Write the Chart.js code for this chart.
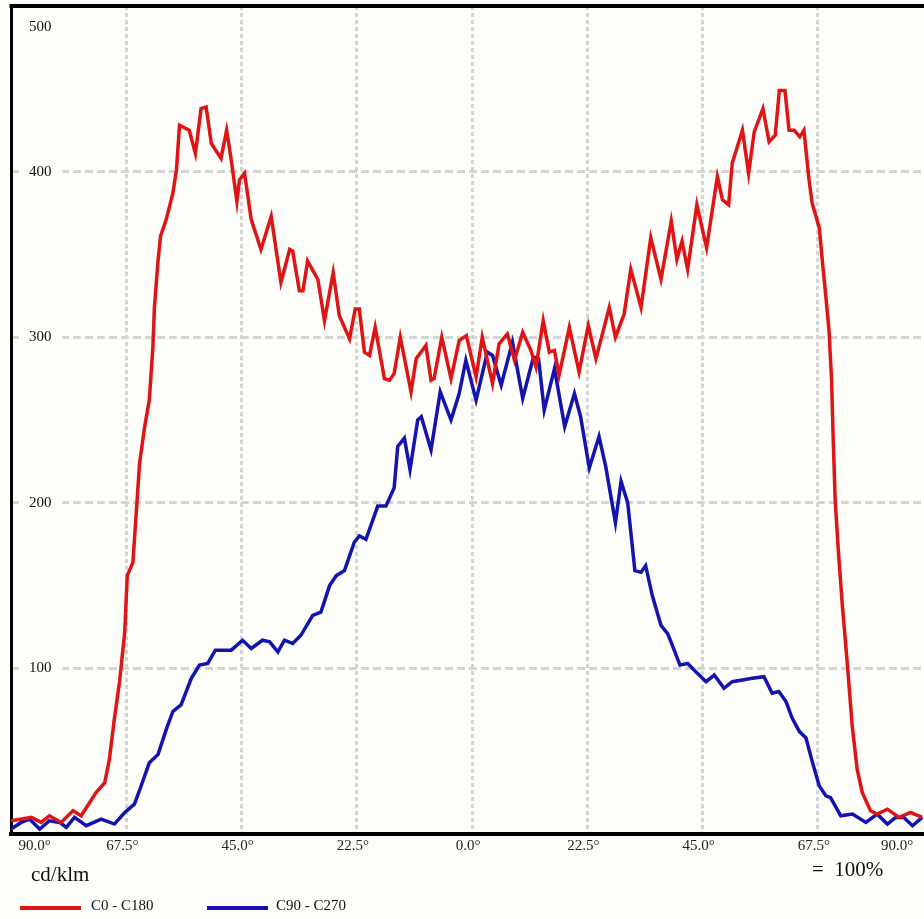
<!DOCTYPE html>
<html>
<head>
<meta charset="utf-8">
<script src="https://cdn.jsdelivr.net/npm/chart.js@4.4.1/dist/chart.umd.min.js"></script>
<style>
html,body{margin:0;padding:0;background:#fdfdf9;overflow:hidden;width:924px;height:919px;}
#wrap{position:relative;width:924px;height:919px;overflow:hidden;}
#c{position:absolute;left:0;top:0;}
.t{position:absolute;font-family:"Liberation Serif","Times New Roman",serif;color:#111;white-space:pre;line-height:1;}
.ln{position:absolute;height:4px;}
</style>
</head>
<body>
<div id="wrap">
<canvas id="c" width="944" height="919"></canvas>
<div id="unit" class="t" style="left:31px;top:864px;font-size:21px"></div>
<div id="note" class="t" style="left:812px;top:859px;font-size:21px"></div>
<div id="legend"></div>
</div>
<script>
// ---- data (angle in degrees, C0-C180 / C90-C270 half planes; left side negative) ----
const redAngles = [
  -90,-86,-84.1,-82.5,-80.2,-77.9,-76.3,-73.4,-71.7,-70.8,
  -69.8,-68.8,-67.8,-67.3,-66.2,-65.5,-64.9,-63.9,-63,-62.3,
  -62,-61.3,-60.8,-59.7,-58.4,-57.7,-57.1,-55.2,-54,-52.9,
  -51.9,-50.9,-49,-47.9,-47,-45.9,-45.4,-44.4,-43.1,-41.2,
  -39.2,-37.3,-35.6,-35,-33.7,-33,-32.1,-30.1,-28.8,-27.1,
  -25.9,-23.9,-22.8,-22,-21,-20,-18.9,-17.1,-16.1,-15.2,
  -14,-11.9,-10.9,-9,-8,-7.4,-5.9,-4.1,-2.5,-1.1,
  0.8,2,4,5.3,6.9,8.3,9.9,11.5,12.5,13.9,
  15.1,16.1,17,19,20.9,22.7,24.2,26.8,28,29.7,
  31,33,34.9,36.9,38.9,40,41,42.1,43.9,45.8,
  47.9,48.9,50.1,50.8,52.8,54,55.1,56.8,58,59.2,
  60,61.1,61.9,62.9,64,64.8,65.8,66.4,67.8,68.4,
  69.1,69.7,70.2,70.5,70.9,71.5,72.3,73.3,74.2,75.2,
  76.2,77.8,79.1,81.1,83.4,85.6,87.9
];
const redValues = [
  8,10,7,11,7,14,11,25,31,45,
  70,92,122,156,164,196,224,246,262,294,
  318,346,361,371,387,401,428,425,411,438,
  439,417,408,425,407,382,395,399,371,353,
  373,333,353,352,328,328,346,335,310,339,
  313,299,317,317,291,289,306,275,274,278,
  300,267,287,295,274,275,300,275,298,301,
  276,300,272,296,302,286,303,292,282,310,
  291,292,277,306,279,307,287,318,300,314,
  341,318,360,335,370,347,358,341,380,354,
  397,383,380,405,425,399,424,438,418,422,
  449,449,425,425,421,425,395,381,366,346,
  324,304,274,240,202,172,138,102,66,39,
  25,14,12,15,10,13,10
];
const blueAngles = [
  -90,-88,-86.4,-84.4,-82.5,-80.5,-79.2,-77.6,-75.3,-72.4,
  -69.8,-67.8,-65.9,-64.6,-63,-61.3,-59.7,-58.4,-56.8,-54.8,
  -53.2,-51.6,-50.1,-47,-44.8,-43.1,-40.9,-39.5,-37.9,-36.6,
  -35,-33.4,-31.1,-29.5,-27.8,-26.5,-24.9,-23,-22,-20.7,
  -18.4,-16.8,-15.2,-14.5,-13.2,-12.1,-10.6,-9.9,-8,-6.2,
  -4.1,-2.5,-1.2,0.8,3,4,5.7,7.9,9.9,12,
  13,14.1,16.1,18.1,20,21.2,22.9,24.8,26.1,28,
  29.1,30.4,31.8,33,33.9,35.2,36.9,38.2,39.1,40.6,
  42.1,44,45.7,47.3,49.2,50.8,52.8,54.7,57,58.6,
  59.9,61.3,62.5,63.9,65.2,66.4,67.8,69.1,70,72,
  74.3,76.9,79.1,81.1,82.7,84.3,86,87.9
];
const blueValues = [
  3,7,9,3,8,7,4,10,5,9,
  6,13,18,29,43,48,63,74,78,94,
  102,103,111,111,117,112,117,116,110,117,
  115,120,132,134,150,156,159,176,180,178,
  198,198,209,234,239,220,250,252,232,267,
  250,266,286,262,291,289,271,297,263,288,
  287,256,281,246,266,252,221,240,222,188,
  213,200,159,158,162,144,126,121,114,102,
  103,97,92,96,88,92,93,94,95,85,
  86,80,70,62,58,44,29,23,22,11,
  12,7,12,6,10,10,5,10
];
const seriesNames = ['C0 - C180', 'C90 - C270'];
const seriesColors = ['#df1515', '#1313b0'];
const xTickValues = [-90, -67.5, -45, -22.5, 0, 22.5, 45, 67.5, 90];
const xTickLabels = ['90.0°','67.5°','45.0°','22.5°','0.0°','22.5°','45.0°','67.5°','90.0°'];
const yTickValues = [100, 200, 300, 400, 500];
const yTickLabels = ['100','200','300','400','500'];
const unitLabel = 'cd/klm';
const scaleNote = '=  100%';

// ---- styling ----
const BG = '#fdfdf9';
const GRID = '#d4d4d4';
const FONT = 'Liberation Serif';
const toPoints = (xs, ys) => xs.map((x, i) => ({x: x, y: ys[i]}));

// edge labels (±90°) sit inside the frame in the reference; the top label sits below the frame
const xLabelPos = v => v === -90 ? -84.6 : (v === 90 ? 83.8 : v);
const yLabelPos = v => v === 500 ? 487 : v;

const frameTop = {
  id: 'frameTop',
  afterDraw(chart) {
    const {ctx, chartArea: a} = chart;
    ctx.save();
    ctx.strokeStyle = '#000';
    ctx.lineWidth = 4;
    ctx.beginPath();
    ctx.moveTo(a.left - 1.5, a.top);
    ctx.lineTo(chart.width, a.top);
    ctx.stroke();
    ctx.restore();
  }
};

const chart = new Chart(document.getElementById('c'), {
  type: 'line',
  data: {
    datasets: [
      {label: seriesNames[0], data: toPoints(redAngles, redValues), borderColor: seriesColors[0], backgroundColor: seriesColors[0], borderWidth: 3.5, pointRadius: 0, tension: 0, fill: false},
      {label: seriesNames[1], data: toPoints(blueAngles, blueValues), borderColor: seriesColors[1], backgroundColor: seriesColors[1], borderWidth: 3.5, pointRadius: 0, tension: 0, fill: false}
    ]
  },
  options: {
    responsive: false,
    animation: false,
    devicePixelRatio: 1,
    layout: {padding: {left: 11, top: 6, right: 11, bottom: 61}},
    plugins: {legend: {display: false}, tooltip: {enabled: false}},
    scales: {
      x: {
        type: 'linear', min: -90, max: 90,
        afterBuildTicks: s => { s.ticks = xTickValues.map(v => ({value: xLabelPos(v)})); },
        afterFit: s => { s.paddingLeft = 0; s.paddingRight = 0; },
        ticks: {
          autoSkip: false, maxRotation: 0, minRotation: 0, padding: 3, labelOffset: -4,
          color: '#222', font: {family: FONT, size: 15},
          callback: (v, i) => xTickLabels[i]
        },
        grid: {
          drawTicks: false, lineWidth: 3,
          color: c => (c.tick && Math.abs(c.tick.value) > 80) ? 'rgba(0,0,0,0)' : GRID
        },
        border: {color: '#000', width: 4, dash: [4, 3]}
      },
      y: {
        type: 'linear', min: 0, max: 500,
        afterBuildTicks: s => { s.ticks = yTickValues.map(v => ({value: yLabelPos(v)})); },
        afterFit: s => { s.width = 0; s.paddingTop = 0; s.paddingBottom = 0; },
        ticks: {
          mirror: true, padding: 18, crossAlign: 'near',
          color: '#111', font: {family: FONT, size: 15},
          showLabelBackdrop: true, backdropColor: BG,
          backdropPadding: {left: 10, right: 11, top: 3, bottom: 3},
          callback: (v, i) => yTickLabels[i]
        },
        grid: {
          drawTicks: false, lineWidth: 3,
          color: c => (c.tick && c.tick.value > 480) ? 'rgba(0,0,0,0)' : GRID
        },
        border: {color: '#000', width: 3, dash: [8, 4]}
      }
    }
  },
  plugins: [frameTop]
});

// ---- HTML texts / legend built from the chart's datasets ----
document.getElementById('unit').textContent = unitLabel;
document.getElementById('note').textContent = scaleNote;
const legendPos = [{line: 20, text: 91}, {line: 207, text: 276}];
const lg = document.getElementById('legend');
chart.data.datasets.forEach((ds, i) => {
  const l = document.createElement('div');
  l.className = 'ln';
  l.style.cssText = 'left:' + legendPos[i].line + 'px;top:906px;width:61px;background:' + ds.borderColor;
  lg.appendChild(l);
  const t = document.createElement('div');
  t.className = 't';
  t.style.cssText = 'left:' + legendPos[i].text + 'px;top:898px;font-size:15px';
  t.textContent = ds.label;
  lg.appendChild(t);
});
</script>
</body>
</html>
